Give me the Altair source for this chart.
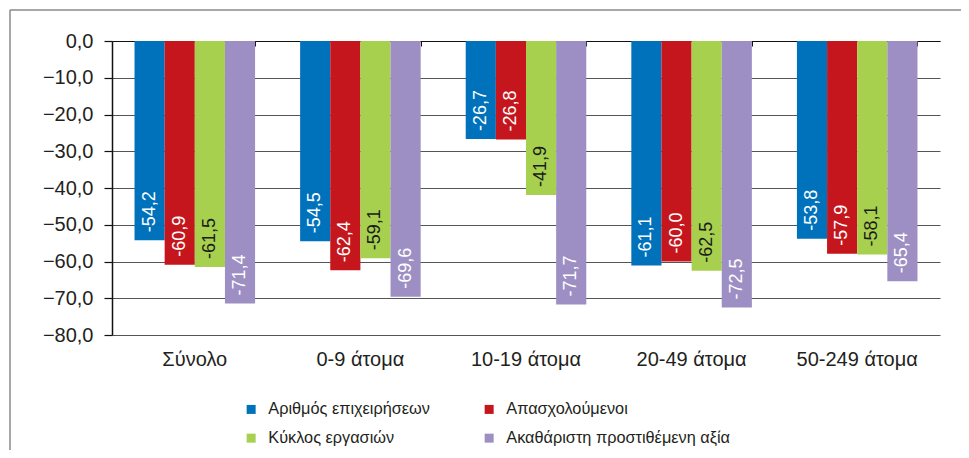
import altair as alt
import pandas as pd

categories = ["Σύνολο", "0-9 άτομα", "10-19 άτομα", "20-49 άτομα", "50-249 άτομα"]
series = ["Αριθμός επιχειρήσεων", "Απασχολούμενοι", "Κύκλος εργασιών",
          "Ακαθάριστη προστιθέμενη αξία"]
arithmos = [-54.2, -54.5, -26.7, -61.1, -53.8]
apasxoloumenoi = [-60.9, -62.4, -26.8, -60.0, -57.9]
kyklos = [-61.5, -59.1, -41.9, -62.5, -58.1]
akatharisti = [-71.4, -69.6, -71.7, -72.5, -65.4]
y_ticks = [-80, -70, -60, -50, -40, -30, -20, -10, 0]

colors = ["#0072BC", "#C4161C", "#A8D04F", "#9D8FC3"]
label_colors = ["#ffffff", "#ffffff", "#1a1a1a", "#ffffff"]

rows = []
for s, vals, lc in zip(series, [arithmos, apasxoloumenoi, kyklos, akatharisti], label_colors):
    for c, v in zip(categories, vals):
        rows.append({"category": c, "series": s, "value": v,
                     "label": f"{v:.1f}".replace(".", ","), "lcolor": lc})
df = pd.DataFrame(rows)

W, H = 828, 294
PAD_L, PAD_T = 104, 33
TOTAL_W, TOTAL_H = 953, 442
FONT = "Liberation Sans"
TXT = "#231f20"

x_scale = alt.Scale(domain=categories, paddingInner=0.272, paddingOuter=0.136)
y_scale = alt.Scale(domain=[-80, 0], nice=False, zero=False)
xo = alt.XOffset("series:N", sort=series,
                 scale=alt.Scale(domain=series, paddingInner=0, paddingOuter=0))

y_axis = alt.Axis(title=None, values=y_ticks,
                  labelExpr="replace(format(datum.value, '.1f'), '.', ',')",
                  tickSize=8, labelPadding=11, labelFontSize=20, labelFont=FONT,
                  labelColor=TXT, grid=True, gridColor="#555555", gridWidth=1,
                  domainColor="#111111", domainWidth=1.5, tickColor="#111111",
                  tickWidth=1.2)

bars = alt.Chart(df).mark_bar().encode(
    x=alt.X("category:N", sort=categories, scale=x_scale,
            axis=alt.Axis(orient="bottom", title=None, labelAngle=0, ticks=False,
                          domain=False, grid=False, labelFontSize=20, labelFont=FONT,
                          labelColor=TXT, labelPadding=14)),
    xOffset=xo,
    y=alt.Y("value:Q", scale=y_scale, axis=y_axis),
    y2=alt.datum(0),
    color=alt.Color("series:N", sort=series,
                    scale=alt.Scale(domain=series, range=colors),
                    legend=alt.Legend(title=None, orient="none", direction="horizontal",
                                      legendX=131, legendY=360,
                                      columns=2, symbolType="square", symbolSize=81,
                                      symbolStrokeWidth=0, labelFontSize=16.3,
                                      labelFont=FONT, labelColor=TXT, columnPadding=51,
                                      rowPadding=12, labelLimit=400, labelOffset=9)),
)

labels = alt.Chart(df).mark_text(angle=270, align="left", baseline="middle", dx=8,
                                 fontSize=18, font=FONT).encode(
    x=alt.X("category:N", sort=categories, scale=x_scale,
            axis=alt.Axis(orient="bottom", offset=-H, labels=False, ticks=True,
                          tickBand="extent", tickSize=5, domain=True,
                          domainColor="#111111", tickColor="#111111", domainWidth=1.2,
                          title=None, grid=False)),
    xOffset=xo,
    y=alt.Y("value:Q", scale=y_scale, axis=y_axis),
    text="label:N",
    color=alt.Color("lcolor:N", scale=None),
)

frame_df = pd.DataFrame({"k": [0]})
frame_top = alt.Chart(frame_df).mark_rule(color="#8a8a8a", strokeWidth=1.5).encode(
    x=alt.value(-PAD_L + 2), x2=alt.value(TOTAL_W - PAD_L), y=alt.value(-PAD_T + 2))
frame_left = alt.Chart(frame_df).mark_rule(color="#8a8a8a", strokeWidth=1.5).encode(
    x=alt.value(-PAD_L + 2), y=alt.value(-PAD_T + 2), y2=alt.value(TOTAL_H - PAD_T))

chart = alt.layer(frame_top, frame_left, bars, labels).resolve_axis(
    x="independent"
).properties(
    width=W, height=H,
    autosize=alt.AutoSizeParams(type="none"),
    padding={"left": PAD_L, "top": PAD_T, "right": TOTAL_W - PAD_L - W,
             "bottom": TOTAL_H - PAD_T - H},
).configure_view(stroke=None)

chart.save("out.html", embed_options={"renderer": "svg", "actions": False})
